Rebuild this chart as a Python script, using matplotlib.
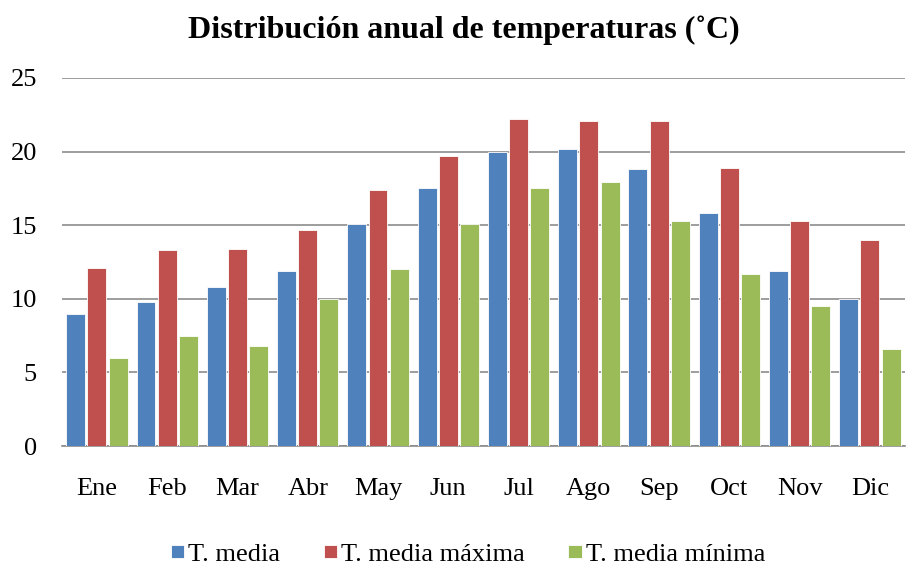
import numpy as np
import matplotlib
matplotlib.use("Agg")
import matplotlib.pyplot as plt

plt.rcParams['font.family'] = ['Liberation Serif', 'DejaVu Serif']

meses = ['Ene', 'Feb', 'Mar', 'Abr', 'May', 'Jun', 'Jul', 'Ago', 'Sep', 'Oct', 'Nov', 'Dic']
t_media = [9.0, 9.8, 10.8, 11.9, 15.1, 17.5, 20.0, 20.2, 18.8, 15.8, 11.9, 10.0]
t_max = [12.1, 13.3, 13.4, 14.7, 17.4, 19.7, 22.2, 22.1, 22.1, 18.9, 15.3, 14.0]
t_min = [6.0, 7.5, 6.8, 10.0, 12.0, 15.1, 17.5, 17.9, 15.3, 11.7, 9.5, 6.6]

series = [
    ('T. media', t_media, '#4F81BD'),
    ('T. media máxima', t_max, '#C0504D'),
    ('T. media mínima', t_min, '#9BBB59'),
]

fig = plt.figure(figsize=(9.09, 5.65), dpi=100)
ax = fig.add_axes([0.068, 0.2106, 0.9276, 0.6514])

x = np.arange(len(meses))
step = 0.302
for i, (name, vals, color) in enumerate(series):
    ax.bar(x + (i - 1) * step, vals, width=0.27, color=color,
           edgecolor='white', linewidth=0.6, label=name, zorder=3)

ax.set_xlim(-0.5, len(meses) - 0.5)
ax.set_ylim(0, 25)
ax.set_yticks([0, 5, 10, 15, 20, 25])
ax.set_xticks(x)
ax.set_xticklabels(meses)
ax.yaxis.grid(True, color='#8c8c8c', linewidth=1.2, zorder=0)
for s in ['top', 'right', 'left']:
    ax.spines[s].set_visible(False)
ax.spines['bottom'].set_color('#8c8c8c')
ax.spines['bottom'].set_linewidth(1.2)
ax.tick_params(axis='both', length=0, labelsize=19)
ax.tick_params(axis='x', pad=23)
ax.tick_params(axis='y', pad=18)

fig.text(0.510, 0.947, 'Distribución anual de temperaturas (˚C)',
         ha='center', va='center', fontsize=23, fontweight='bold')

fig.legend(loc='center', bbox_to_anchor=(0.515, 0.018), ncol=3, frameon=False,
           fontsize=19, handlelength=0.5, handleheight=0.42, handletextpad=0.15,
           columnspacing=1.65, borderaxespad=0, borderpad=0)

fig.savefig('out.png', dpi=100)
